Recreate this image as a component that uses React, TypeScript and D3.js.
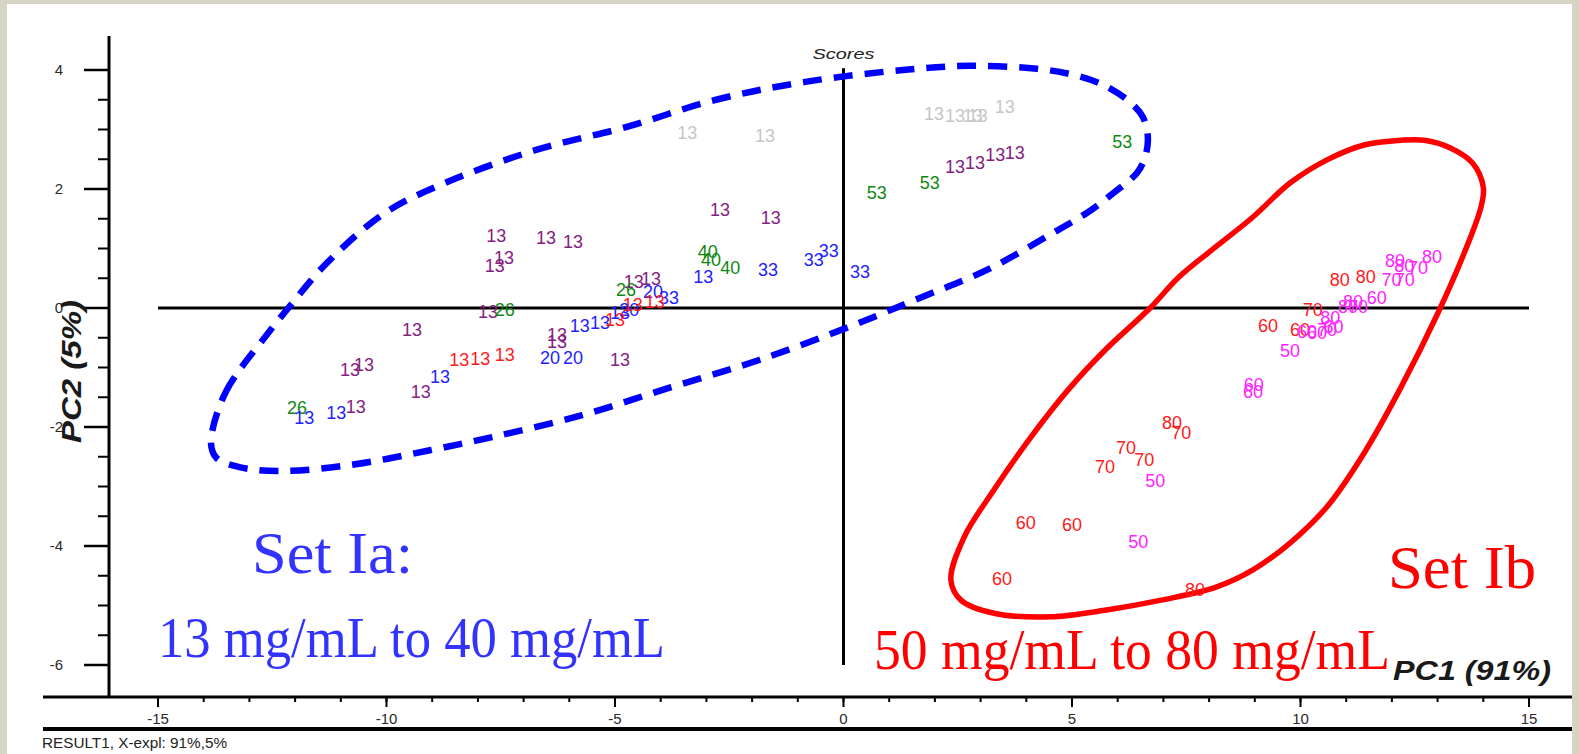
import * as d3 from "d3";

const W = 1579;
const H = 754;
const SANS = "'Liberation Sans', Arial, sans-serif";
const SERIF = "'Liberation Serif', 'Times New Roman', serif";

type Lbl = [number, number, string];

// score labels, [PC1, PC2, sample]
const grayLabels: Lbl[] = [
  [-3.42, 2.94, "13"], [-1.72, 2.89, "13"], [1.98, 3.26, "13"], [2.44, 3.24, "13"],
  [2.83, 3.24, "13"], [2.94, 3.24, "13"], [3.53, 3.39, "13"],
];
const purpleLabels: Lbl[] = [
  [-2.7, 1.65, "13"], [-1.59, 1.51, "13"], [-7.6, 1.21, "13"], [-6.51, 1.18, "13"],
  [-5.92, 1.11, "13"], [-7.43, 0.84, "13"], [-7.63, 0.71, "13"], [-4.59, 0.44, "13"],
  [-4.21, 0.5, "13"], [-7.78, -0.07, "13"], [-9.44, -0.37, "13"], [-6.27, -0.45, "13"],
  [-6.27, -0.57, "13"], [-4.89, -0.87, "13"], [-10.8, -1.04, "13"], [-10.49, -0.96, "13"],
  [-9.25, -1.41, "13"], [-10.67, -1.66, "13"], [2.44, 2.37, "13"], [2.88, 2.44, "13"],
  [3.32, 2.57, "13"], [3.75, 2.61, "13"],
];
const greenLabels: Lbl[] = [
  [-2.97, 0.94, "40"], [-2.9, 0.81, "40"], [-2.48, 0.67, "40"], [-4.76, 0.3, "26"],
  [-7.41, -0.03, "26"], [-11.96, -1.68, "26"], [0.73, 1.93, "53"], [1.89, 2.1, "53"],
  [6.1, 2.79, "53"],
];
const blueLabels: Lbl[] = [
  [-3.07, 0.52, "13"], [-1.65, 0.64, "33"], [-0.65, 0.81, "33"], [-0.32, 0.97, "33"],
  [0.36, 0.61, "33"], [-4.17, 0.27, "20"], [-3.82, 0.17, "33"], [-4.89, -0.08, "13"],
  [-4.69, -0.03, "20"], [-5.33, -0.25, "13"], [-5.77, -0.3, "13"], [-6.42, -0.84, "20"],
  [-5.92, -0.84, "20"], [-8.83, -1.16, "13"], [-11.8, -1.85, "13"], [-11.1, -1.76, "13"],
];
const redLabels: Lbl[] = [
  [-4.61, 0.05, "13"], [-4.13, 0.1, "13"], [-5.0, -0.2, "13"], [-8.41, -0.87, "13"],
  [-7.95, -0.86, "13"], [-7.41, -0.79, "13"],
  [10.86, 0.47, "80"], [11.43, 0.52, "80"], [10.27, -0.03, "70"], [9.29, -0.29, "60"],
  [9.99, -0.37, "60"], [7.19, -1.92, "80"], [7.39, -2.1, "70"], [6.18, -2.34, "70"],
  [6.58, -2.55, "70"], [5.72, -2.67, "70"], [3.99, -3.61, "60"], [5.0, -3.65, "60"],
  [3.47, -4.55, "60"], [7.69, -4.74, "80"],
];
const magentaLabels: Lbl[] = [
  [12.07, 0.79, "80"], [12.27, 0.71, "80"], [12.57, 0.67, "70"], [12.88, 0.87, "80"],
  [11.99, 0.47, "70"], [12.28, 0.47, "70"], [11.67, 0.18, "60"], [11.15, 0.1, "80"],
  [11.04, 0.02, "80"], [11.26, 0.03, "70"], [10.65, -0.17, "80"], [10.72, -0.32, "60"],
  [10.14, -0.4, "60"], [10.36, -0.42, "60"], [10.58, -0.37, "70"], [9.77, -0.71, "50"],
  [8.98, -1.29, "60"], [8.96, -1.41, "60"], [6.82, -2.91, "50"], [6.45, -3.93, "50"],
];

const groups = [
  { color: "#c6c6c6", labels: grayLabels },
  { color: "#86207f", labels: purpleLabels },
  { color: "#118811", labels: greenLabels },
  { color: "#2222ff", labels: blueLabels },
  { color: "#ff1a1a", labels: redLabels },
  { color: "#ff22ff", labels: magentaLabels },
];

// hand-drawn group outlines, in score units
const setIaOutline: [number, number][] = [
  [-13.84, -2.27], [-13.53, -1.43], [-12.66, -0.49], [-12.18, -0.03], [-11.3, 0.76],
  [-10.03, 1.6], [-8.66, 2.12], [-6.71, 2.66], [-4.76, 3.04], [-2.79, 3.5], [-0.84, 3.8],
  [1.3, 4.0], [2.77, 4.07], [4.23, 4.02], [5.02, 3.92], [5.68, 3.75], [6.27, 3.46],
  [6.55, 3.21], [6.66, 2.87], [6.6, 2.54], [6.42, 2.27], [5.9, 1.93], [5.33, 1.6],
  [4.58, 1.26], [3.14, 0.64], [1.67, 0.17], [0.21, -0.29], [-1.83, -0.87], [-3.77, -1.33],
  [-5.72, -1.8], [-7.69, -2.17], [-9.05, -2.39], [-10.8, -2.64], [-12.37, -2.74],
  [-13.24, -2.67], [-13.72, -2.52],
];
const setIbOutline: [number, number][] = [
  [12.2, 2.82], [11.39, 2.74], [10.58, 2.49], [9.77, 2.1], [8.96, 1.53], [8.15, 1.03],
  [7.34, 0.52], [6.71, 0.0], [5.72, -0.71], [4.91, -1.38], [4.1, -2.17], [3.29, -3.06],
  [2.64, -3.85], [2.35, -4.57], [2.57, -4.91], [3.29, -5.13], [4.52, -5.19], [5.72, -5.08],
  [6.95, -4.91], [8.15, -4.69], [8.96, -4.4], [9.77, -3.95], [10.58, -3.34], [11.39, -2.44],
  [12.2, -1.33], [13.01, -0.08], [13.58, 0.92], [13.95, 1.7], [14.0, 2.03], [13.76, 2.44],
  [13.28, 2.69], [12.71, 2.82],
];

const xMajor = [-15, -10, -5, 0, 5, 10, 15];
const xMinor = d3.range(-15, 16, 1);
const yMajor = [4, 2, 0, -2, -4, -6];
const yMinor = d3.range(-6, 4.01, 0.5);

export default function App() {
  const x = d3.scaleLinear().domain([-15, 15]).range([158, 1529]);
  const y = d3.scaleLinear().domain([-6, 4]).range([665, 70]);

  const axisX = 109;
  const axisY = 697;

  const outline = d3
    .line<[number, number]>()
    .x((d) => x(d[0]))
    .y((d) => y(d[1]))
    .curve(d3.curveCatmullRomClosed.alpha(0.5));

  return (
    <svg
      width={W}
      height={H}
      viewBox={`0 0 ${W} ${H}`}
      style={{ position: "fixed", left: 0, top: 0 }}
    >
      <rect x={0} y={0} width={W} height={H} fill="#d6d4c3" />
      <rect x={7} y={4} width={W - 14} height={H - 4} fill="#ffffff" />

      {/* y axis */}
      <line x1={axisX} x2={axisX} y1={36} y2={axisY} stroke="#000" strokeWidth={3} />
      {yMinor.map((t) => (
        <line key={`ym${t}`} x1={axisX - 11} x2={axisX} y1={y(t)} y2={y(t)} stroke="#000" strokeWidth={2} />
      ))}
      {yMajor.map((t) => (
        <g key={`yM${t}`}>
          <line x1={axisX - 25} x2={axisX} y1={y(t)} y2={y(t)} stroke="#000" strokeWidth={2.5} />
          <text x={63} y={y(t)} dy="0.35em" textAnchor="end" fontFamily={SANS} fontSize={15} fill="#2a2a2a">
            {t}
          </text>
        </g>
      ))}

      {/* x axis */}
      <line x1={43} x2={1572} y1={axisY} y2={axisY} stroke="#000" strokeWidth={3} />
      {xMinor.map((t) => (
        <line key={`xm${t}`} x1={x(t)} x2={x(t)} y1={axisY} y2={axisY + 5} stroke="#000" strokeWidth={2} />
      ))}
      {xMajor.map((t) => (
        <g key={`xM${t}`}>
          <line x1={x(t)} x2={x(t)} y1={axisY} y2={axisY + 10} stroke="#000" strokeWidth={2} />
          <text x={x(t)} y={724} textAnchor="middle" fontFamily={SANS} fontSize={15} fill="#2a2a2a">
            {t}
          </text>
        </g>
      ))}
      <line x1={43} x2={1572} y1={729} y2={729} stroke="#000" strokeWidth={4} />
      <text x={42} y={748} fontFamily={SANS} fontSize={15} fill="#222" textLength={185} lengthAdjust="spacingAndGlyphs">
        RESULT1, X-expl: 91%,5%
      </text>

      {/* zero lines */}
      <line x1={x(-15)} x2={x(15)} y1={y(0)} y2={y(0)} stroke="#000" strokeWidth={3} />
      <line x1={x(0)} x2={x(0)} y1={y(4.03)} y2={y(-6)} stroke="#000" strokeWidth={3} />

      <text x={x(0)} y={59} textAnchor="middle" fontFamily={SANS} fontStyle="italic" fontSize={15} fill="#222" textLength={62} lengthAdjust="spacingAndGlyphs">
        Scores
      </text>

      {/* group outlines */}
      <path d={outline(setIaOutline) ?? undefined} fill="none" stroke="#0000ff" strokeWidth={6.5} strokeDasharray="19 12" />
      <path d={outline(setIbOutline) ?? undefined} fill="none" stroke="#ff0000" strokeWidth={5.5} />

      {groups.map((g) =>
        g.labels.map((d, i) => (
          <text
            key={`${g.color}-${i}`}
            x={x(d[0])}
            y={y(d[1])}
            dy="0.35em"
            textAnchor="middle"
            fontFamily={SANS}
            fontSize={18}
            fill={g.color}
          >
            {d[2]}
          </text>
        )),
      )}

      {/* axis titles */}
      <text x={1393} y={680} fontFamily={SANS} fontWeight="bold" fontStyle="italic" fontSize={27} fill="#1a1a1a" textLength={158} lengthAdjust="spacingAndGlyphs">
        PC1 (91%)
      </text>
      <text
        transform="translate(81,443) rotate(-90)"
        fontFamily={SANS}
        fontWeight="bold"
        fontStyle="italic"
        fontSize={27}
        fill="#1a1a1a"
        textLength={143}
        lengthAdjust="spacingAndGlyphs"
      >
        PC2 (5%)
      </text>

      {/* set annotations */}
      <text x={252} y={573} fontFamily={SERIF} fontSize={60} fill="#3333ff" textLength={161} lengthAdjust="spacingAndGlyphs">
        Set Ia:
      </text>
      <text x={158} y={657} fontFamily={SERIF} fontSize={58} fill="#3333ff" textLength={507} lengthAdjust="spacingAndGlyphs">
        13 mg/mL to 40 mg/mL
      </text>
      <text x={1388} y={588} fontFamily={SERIF} fontSize={62} fill="#ff0000" textLength={148} lengthAdjust="spacingAndGlyphs">
        Set Ib
      </text>
      <text x={874} y={669} fontFamily={SERIF} fontSize={58} fill="#ff0000" textLength={516} lengthAdjust="spacingAndGlyphs">
        50 mg/mL to 80 mg/mL
      </text>
    </svg>
  );
}
